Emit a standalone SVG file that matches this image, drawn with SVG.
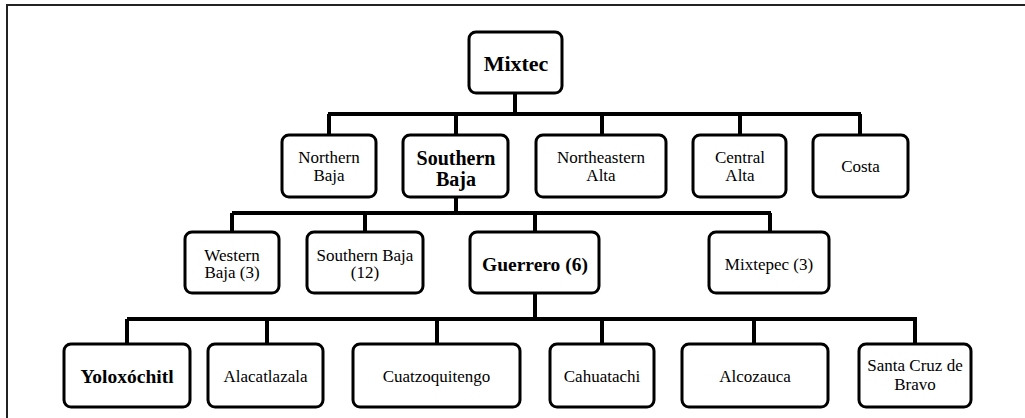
<svg xmlns="http://www.w3.org/2000/svg" width="1025" height="418" viewBox="0 0 1025 418">
<style>
.box{fill:#fff;stroke:#000;stroke-width:3}
.c{stroke:#000;stroke-width:4;fill:none}
text{font-family:'Liberation Serif','Times New Roman','DejaVu Serif',serif;fill:#000;text-anchor:middle}
.n{font-size:17px}
.b{font-weight:bold;font-size:20px}
.g{font-weight:bold;font-size:19.5px}
</style>
<rect width="1025" height="418" fill="#fff"/>
<path d="M7,418 V5 H1025" fill="none" stroke="#222" stroke-width="2"/>
<g id="connectors">
<path class="c" d="M515,93 V114 M328,114 H861 M329,114 V135 M456,114 V135 M602,114 V135 M740,114 V135 M860,114 V135"/>
<path class="c" d="M456,197 V213 M232,213 H771 M232,213 V232 M365,213 V232 M535,213 V232 M770,213 V232"/>
<path class="c" d="M535,293 V319 M127,319 H917 M127,319 V344 M267,319 V344 M437,319 V344 M602,319 V344 M754,319 V344 M915,319 V344"/>
</g>
<g id="mixtec"><rect class="box" x="469" y="32" width="93" height="61" rx="7"/><text x="516" y="71" style="font-size:22px;font-weight:bold">Mixtec</text></g>
<g id="northern-baja"><rect class="box" x="282" y="135" width="94" height="62" rx="7"/><text class="n" x="329" y="163">Northern</text><text class="n" x="329" y="181">Baja</text></g>
<g id="southern-baja"><rect class="box" x="403" y="135" width="105" height="62" rx="7"/><text class="b" x="456" y="165">Southern</text><text class="b" x="456" y="186">Baja</text></g>
<g id="northeastern-alta"><rect class="box" x="536" y="135" width="130" height="62" rx="7"/><text class="n" x="601" y="163">Northeastern</text><text class="n" x="601" y="181">Alta</text></g>
<g id="central-alta"><rect class="box" x="693" y="135" width="93" height="62" rx="7"/><text class="n" x="740" y="163">Central</text><text class="n" x="740" y="181">Alta</text></g>
<g id="costa"><rect class="box" x="813" y="135" width="95" height="62" rx="7"/><text class="n" x="860.5" y="172">Costa</text></g>
<g id="western-baja"><rect class="box" x="185" y="232" width="94" height="61" rx="7"/><text class="n" x="232" y="261">Western</text><text class="n" x="232" y="278">Baja (3)</text></g>
<g id="southern-baja-12"><rect class="box" x="307" y="232" width="116" height="61" rx="7"/><text class="n" x="365" y="261">Southern Baja</text><text class="n" x="365" y="278">(12)</text></g>
<g id="guerrero"><rect class="box" x="470" y="232" width="129" height="61" rx="7"/><text class="g" x="535" y="271">Guerrero (6)</text></g>
<g id="mixtepec"><rect class="box" x="709" y="232" width="120" height="61" rx="7"/><text class="n" x="769" y="270">Mixtepec (3)</text></g>
<g id="yoloxochitl"><rect class="box" x="64" y="344" width="126" height="63" rx="7"/><text class="g" x="127" y="383">Yoloxóchitl</text></g>
<g id="alacatlazala"><rect class="box" x="208" y="344" width="115" height="63" rx="7"/><text class="n" x="265.5" y="382">Alacatlazala</text></g>
<g id="cuatzoquitengo"><rect class="box" x="353" y="344" width="167" height="63" rx="7"/><text class="n" x="436.5" y="382">Cuatzoquitengo</text></g>
<g id="cahuatachi"><rect class="box" x="550" y="344" width="104" height="63" rx="7"/><text class="n" x="602" y="382">Cahuatachi</text></g>
<g id="alcozauca"><rect class="box" x="682" y="344" width="146" height="63" rx="7"/><text class="n" x="755" y="382">Alcozauca</text></g>
<g id="santa-cruz-de-bravo"><rect class="box" x="859" y="344" width="112" height="63" rx="7"/><text class="n" x="915" y="371">Santa Cruz de</text><text class="n" x="915" y="390">Bravo</text></g>
</svg>
